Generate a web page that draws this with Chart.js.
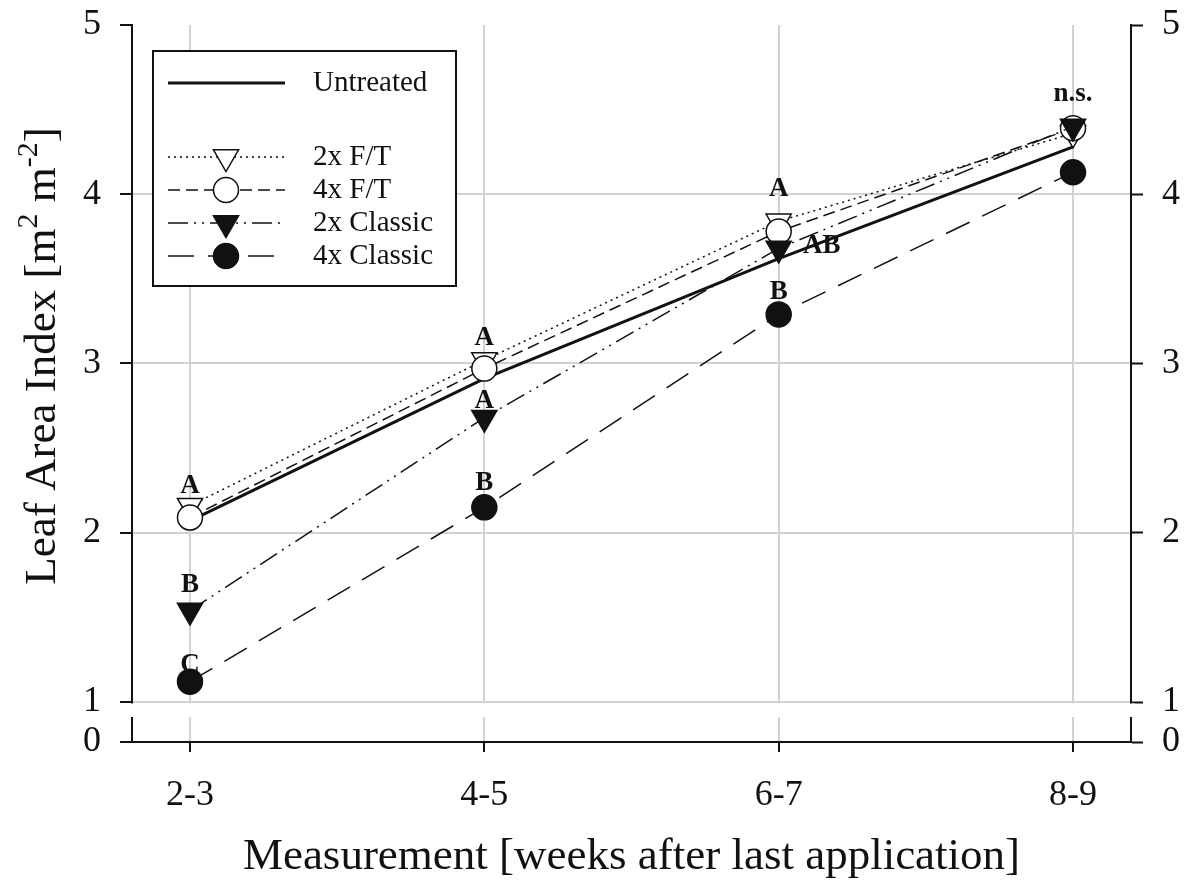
<!DOCTYPE html>
<html>
<head>
<meta charset="utf-8">
<title>Leaf Area Index</title>
<script src="https://cdn.jsdelivr.net/npm/chart.js@4.4.1/dist/chart.umd.min.js"></script>
<style>
  html, body { margin: 0; padding: 0; background: #fff; }
  #wrap { width: 1189px; height: 884px; position: relative; }
</style>
</head>
<body>
<div id="wrap"><canvas id="laiChart"></canvas></div>
<script>
// weeks after the last application
const weeks = ["2-3", "4-5", "6-7", "8-9"];

// mean LAI [m2 m-2] per treatment
const untreated = [2.07, 2.91, 3.62, 4.28];
const ft2x      = [2.16, 3.02, 3.84, 4.36];
const ft4x      = [2.09, 2.97, 3.78, 4.39];
const classic2x = [1.54, 2.68, 3.68, 4.40];
const classic4x = [1.12, 2.15, 3.29, 4.13];

// letters from the multiple comparison, per week
const lettersFT2x      = ["A", "A", "A", ""];
const lettersClassic2x = ["B", "A", "AB", "n.s."];
const lettersClassic4x = ["C", "B", "B", ""];

const yTicks = [1, 2, 3, 4, 5];

// axis is broken below 1: a short stub carries the zero
const Y_STUB = 40 / 169.25;
const Y_MIN = 1 - Y_STUB;

const INK = "#111";
const GRID = "#d2d2d2";
const SERIF = '"Liberation Serif", "Times New Roman", serif';

const pts = arr => arr.map((v, i) => ({ x: i, y: v }));

// first dataset is drawn on top
const datasets = [
  { label: "2x Classic", data: pts(classic2x), borderDash: [20, 6, 2, 6, 2, 6], borderWidth: 1.5,
    pointStyle: "triangle", pointRotation: 180, pointRadius: 14.5, pointBackgroundColor: "#111" },
  { label: "4x Classic", data: pts(classic4x), borderDash: [26, 14], borderWidth: 1.5,
    pointStyle: "circle", pointRotation: 0, pointRadius: 12.5, pointBackgroundColor: "#111" },
  { label: "4x F/T", data: pts(ft4x), borderDash: [12, 6], borderWidth: 1.5,
    pointStyle: "circle", pointRotation: 0, pointRadius: 12.5, pointBackgroundColor: "#fff" },
  { label: "2x F/T", data: pts(ft2x), borderDash: [2, 4], borderWidth: 1.5,
    pointStyle: "triangle", pointRotation: 180, pointRadius: 14.5, pointBackgroundColor: "#fff" },
  { label: "Untreated", data: pts(untreated), borderDash: [], borderWidth: 3,
    pointStyle: false, pointRadius: 0, pointBackgroundColor: "#111" }
].map(d => Object.assign({
  borderColor: INK, pointBorderColor: INK, pointBorderWidth: 1.5, fill: false, tension: 0
}, d));

// where each letter sits relative to its marker
const letterSets = [
  { ds: 3, text: lettersFT2x,      dx: [0, 0, 0, 0],  dy: [-20, -22, -32, 0] },
  { ds: 0, text: lettersClassic2x, dx: [0, 0, 43, 0], dy: [-26, -17, -2, -33] },
  { ds: 1, text: lettersClassic4x, dx: [0, 0, 0, 0],  dy: [-17, -24, -22, 0] }
];

const legendOrder = ["Untreated", "2x F/T", "4x F/T", "2x Classic", "4x Classic"];

const axisBreak = {
  id: "axisBreak",
  beforeDatasetsDraw(chart) {
    const { ctx, chartArea } = chart;
    const y1 = chart.scales.y.getPixelForValue(1);
    ctx.save();
    ctx.fillStyle = "#fff";
    ctx.fillRect(chartArea.left - 4, y1 + 1.5, chartArea.right - chartArea.left + 8, 13.5);
    ctx.restore();
  }
};

const sigLetters = {
  id: "sigLetters",
  afterDatasetsDraw(chart) {
    const ctx = chart.ctx;
    ctx.save();
    ctx.font = "bold 27px " + SERIF;
    ctx.fillStyle = INK;
    ctx.textAlign = "center";
    ctx.textBaseline = "middle";
    letterSets.forEach(set => {
      const meta = chart.getDatasetMeta(set.ds);
      set.text.forEach((t, i) => {
        if (!t) return;
        const p = meta.data[i];
        ctx.fillText(t, p.x + set.dx[i], p.y + set.dy[i]);
      });
    });
    ctx.restore();
  }
};

const boxLegend = {
  id: "boxLegend",
  afterDraw(chart) {
    const ctx = chart.ctx;
    const box = { left: 153, top: 51, right: 456, bottom: 286 };
    ctx.save();
    ctx.fillStyle = "#fff";
    ctx.fillRect(box.left, box.top, box.right - box.left, box.bottom - box.top);
    ctx.strokeStyle = INK;
    ctx.lineWidth = 2;
    ctx.strokeRect(box.left, box.top, box.right - box.left, box.bottom - box.top);

    ctx.font = "29px " + SERIF;
    ctx.textBaseline = "middle";
    legendOrder.forEach((name, i) => {
      const ds = chart.data.datasets.find(d => d.label === name);
      const y = i === 0 ? 83 : 157 + (i - 1) * 33;
      ctx.strokeStyle = INK;
      ctx.lineWidth = ds.borderWidth;
      ctx.setLineDash(ds.borderDash);
      ctx.beginPath();
      ctx.moveTo(168, y);
      ctx.lineTo(285, y);
      ctx.stroke();
      ctx.setLineDash([]);
      if (ds.pointStyle) {
        ctx.fillStyle = ds.pointBackgroundColor;
        ctx.strokeStyle = ds.pointBorderColor;
        ctx.lineWidth = ds.pointBorderWidth;
        Chart.helpers.drawPoint(ctx, {
          pointStyle: ds.pointStyle, rotation: ds.pointRotation,
          radius: ds.pointRadius, borderWidth: ds.pointBorderWidth
        }, 226, y);
      }
      ctx.fillStyle = INK;
      ctx.fillText(name, 313, y);
    });
    ctx.restore();
  }
};

// y title with superscripts for the unit
const yTitle = {
  id: "yTitle",
  afterDraw(chart) {
    const ctx = chart.ctx;
    const big = "45px " + SERIF, small = "30px " + SERIF;
    const parts = [["Leaf Area Index [m", big, 0], ["2", small, -18], [" m", big, 0], ["-2", small, -18], ["]", big, 0]];
    ctx.save();
    ctx.translate(55, 356);
    ctx.rotate(-Math.PI / 2);
    ctx.fillStyle = INK;
    ctx.textBaseline = "alphabetic";
    let total = 0;
    parts.forEach(p => { ctx.font = p[1]; total += ctx.measureText(p[0]).width; });
    let x = -total / 2;
    parts.forEach(p => {
      ctx.font = p[1];
      ctx.fillText(p[0], x, p[2]);
      x += ctx.measureText(p[0]).width;
    });
    ctx.restore();
  }
};

const yTickSet = scale => { scale.ticks = [Y_MIN].concat(yTicks).map(v => ({ value: v })); };
const yLabel = v => (v < 1 ? "0" : String(v));
// fixed box sizes so the plot area lands where it should
const yFit = w => scale => { scale.width = w; scale.paddingTop = 0; scale.paddingBottom = 0; };

new Chart(document.getElementById("laiChart"), {
  type: "line",
  data: { datasets },
  options: {
    responsive: true,
    maintainAspectRatio: false,
    animation: false,
    layout: { padding: { top: 25, left: 0, right: 0, bottom: 0 } },
    plugins: { legend: { display: false }, tooltip: { enabled: false } },
    scales: {
      x: {
        type: "linear",
        min: -0.197,
        max: 3.197,
        afterBuildTicks: scale => { scale.ticks = weeks.map((w, i) => ({ value: i })); },
        afterFit: scale => { scale.height = 142; scale.paddingLeft = 0; scale.paddingRight = 0; },
        ticks: {
          callback: v => weeks[v],
          color: INK,
          padding: 22,
          maxRotation: 0,
          font: { family: SERIF, size: 36 }
        },
        grid: { color: GRID, lineWidth: 2, tickColor: INK, tickLength: 10, tickWidth: 2 },
        border: { display: true, color: INK, width: 2 },
        title: {
          display: true,
          text: "Measurement [weeks after last application]",
          color: INK,
          font: { family: SERIF, size: 45, lineHeight: 1.2 },
          padding: { top: 0, bottom: 0 }
        }
      },
      y: {
        position: "left",
        min: Y_MIN,
        max: 5,
        afterBuildTicks: yTickSet,
        afterFit: yFit(132),
        ticks: { callback: yLabel, color: INK, padding: 19, font: { family: SERIF, size: 36 } },
        grid: {
          color: c => (c.tick && c.tick.value >= 1 && c.tick.value < 5 ? GRID : "rgba(0,0,0,0)"),
          lineWidth: 2, tickColor: INK, tickLength: 12, tickWidth: 2
        },
        border: { display: true, color: INK, width: 2 }
      },
      y2: {
        position: "right",
        min: Y_MIN,
        max: 5,
        afterBuildTicks: yTickSet,
        afterFit: yFit(58),
        ticks: { callback: yLabel, color: INK, padding: 19, font: { family: SERIF, size: 36 } },
        grid: { drawOnChartArea: false, tickColor: INK, tickLength: 12, tickWidth: 2 },
        border: { display: true, color: INK, width: 2 }
      }
    }
  },
  plugins: [axisBreak, sigLetters, boxLegend, yTitle]
});
</script>
</body>
</html>
